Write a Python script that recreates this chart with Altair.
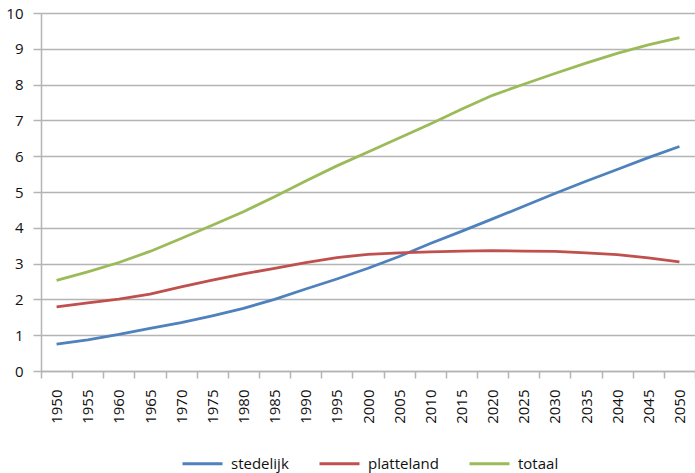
import altair as alt
import pandas as pd

# Wereldbevolking (miljard), stedelijk vs. platteland, 1950-2050
years = [1950, 1955, 1960, 1965, 1970, 1975, 1980, 1985, 1990, 1995, 2000,
         2005, 2010, 2015, 2020, 2025, 2030, 2035, 2040, 2045, 2050]
stedelijk = [0.75, 0.87, 1.02, 1.19, 1.35, 1.54, 1.75, 2.00, 2.29, 2.57, 2.87,
             3.20, 3.56, 3.90, 4.25, 4.60, 4.96, 5.30, 5.63, 5.96, 6.27]
platteland = [1.79, 1.90, 2.01, 2.15, 2.35, 2.54, 2.71, 2.87, 3.03, 3.17, 3.26,
              3.30, 3.33, 3.35, 3.36, 3.35, 3.34, 3.30, 3.25, 3.16, 3.05]
totaal = [2.53, 2.77, 3.03, 3.34, 3.70, 4.07, 4.45, 4.87, 5.31, 5.73, 6.12,
          6.51, 6.90, 7.31, 7.70, 8.01, 8.31, 8.60, 8.87, 9.11, 9.31]

series = ["stedelijk", "platteland", "totaal"]
colors = ["#4f81bd", "#c0504d", "#9bbb59"]

rows = []
for name, vals in zip(series, [stedelijk, platteland, totaal]):
    for y, v in zip(years, vals):
        rows.append({"jaar": str(y), "reeks": name, "waarde": v})
df = pd.DataFrame(rows)

FONT = "Open Sans"
TXT = "#111111"
GRID = "#b4b4b4"

chart = alt.Chart(df).mark_line(strokeWidth=2.8).encode(
    x=alt.X(
        "jaar:O",
        sort=[str(y) for y in years],
        scale=alt.Scale(type="band", paddingInner=0, paddingOuter=0),
        bandPosition=0.5,
        axis=alt.Axis(
            title=None, labelAngle=270, labelAlign="right", labelBaseline="middle",
            tickBand="extent", tickSize=7, tickColor=GRID, domainColor=GRID,
            labelPadding=11, labelFontSize=15, labelFont=FONT, labelColor=TXT,
            grid=False,
        ),
    ),
    y=alt.Y(
        "waarde:Q",
        scale=alt.Scale(domain=[0, 10], nice=False),
        axis=alt.Axis(
            title=None, values=list(range(0, 11)), tickSize=8, tickColor=GRID,
            domainColor=GRID, gridColor=GRID, labelPadding=10, labelFontSize=15,
            labelFont=FONT, labelColor=TXT,
        ),
    ),
    color=alt.Color(
        "reeks:N",
        scale=alt.Scale(domain=series, range=colors),
        legend=alt.Legend(
            title=None, orient="none", direction="horizontal",
            legendX=140, legendY=429, symbolType="stroke", symbolSize=1600,
            symbolStrokeWidth=3, labelFontSize=15, labelFont=FONT,
            labelColor=TXT, columnPadding=24, labelOffset=7,
        ),
    ),
).properties(
    width=654,
    height=358,
    autosize=alt.AutoSizeParams(type="none"),
    padding={"left": 41, "top": 13, "right": 0, "bottom": 102},
).configure_view(stroke=None).configure_axis(domainWidth=1.5, gridWidth=1.5, tickWidth=1.5)

chart.save("out.html", embed_options={"renderer": "svg", "actions": False})
